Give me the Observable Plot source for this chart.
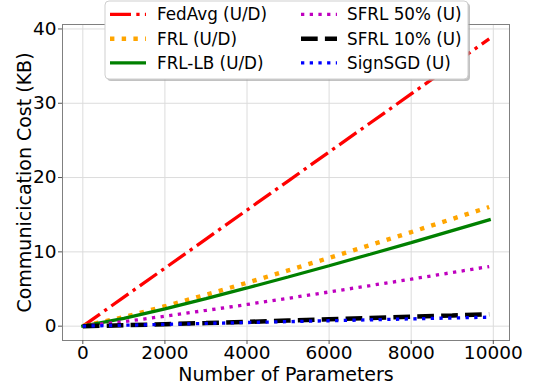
<!DOCTYPE html>
<html>
<head>
<meta charset="utf-8">
<script src="https://cdn.jsdelivr.net/npm/d3@7"></script>
<script src="https://cdn.jsdelivr.net/npm/@observablehq/plot@0.6"></script>
<style>
  html, body { margin: 0; padding: 0; background: #fff; }
  #chart { position: relative; width: 534px; height: 389px; }
  svg { font-family: "DejaVu Sans", sans-serif; }
</style>
</head>
<body>
<div id="chart"></div>
<script>
// Number of parameters (x)
const params = [0, 1000, 2000, 3000, 4000, 5000, 6000, 7000, 8000, 9000, 9900];
// Communication cost in KB per method
const fedAvg   = [0, 3.91, 7.81, 11.72, 15.63, 19.53, 23.44, 27.34, 31.25, 35.16, 38.67];
const frl      = [0, 1.22, 2.68, 4.23, 5.84, 7.50, 9.19, 10.91, 12.66, 14.43, 16.04];
const frlLB    = [0, 1.04, 2.33, 3.70, 5.14, 6.62, 8.13, 9.68, 11.25, 12.85, 14.30];
const sfrl50   = [0, 0.61, 1.34, 2.12, 2.92, 3.75, 4.60, 5.46, 6.33, 7.22, 8.02];
const sfrl10   = [0, 0.12, 0.27, 0.42, 0.58, 0.75, 0.92, 1.09, 1.27, 1.44, 1.60];
const signSGD  = [0, 0.12, 0.24, 0.37, 0.49, 0.61, 0.73, 0.85, 0.98, 1.10, 1.21];
// Series names
const names = ["FedAvg (U/D)", "FRL (U/D)", "FRL-LB (U/D)", "SFRL 50% (U)", "SFRL 10% (U)", "SignSGD (U)"];
// Tick labels
const xTicks = [0, 2000, 4000, 6000, 8000, 10000];
const yTicks = [0, 10, 20, 30, 40];

const valuesList = [fedAvg, frl, frlLB, sfrl50, sfrl10, signSGD];
const styles = [
  {stroke: "#ff0000", width: 3.3, dash: "21,5.3,3.3,5.3", cap: "butt"},
  {stroke: "#ffa500", width: 4.4, dash: "4.4,7.3", cap: "butt"},
  {stroke: "#008000", width: 3.3, dash: null, cap: "square"},
  {stroke: "#bf00bf", width: 3.3, dash: "3.3,5.4", cap: "butt"},
  {stroke: "#000000", width: 4.5, dash: "16.7,7.2", cap: "butt"},
  {stroke: "#0000ff", width: 3.3, dash: "3.3,5.4", cap: "butt"}
];

const lineMarks = names.map((name, i) => {
  const data = params.map((p, j) => ({x: p, y: valuesList[i][j], series: name}));
  const s = styles[i];
  return Plot.line(data, {
    x: "x", y: "y",
    stroke: s.stroke,
    strokeWidth: s.width,
    strokeDasharray: s.dash,
    strokeLinecap: s.cap,
    strokeLinejoin: "miter"
  });
});

const chart = Plot.plot({
  width: 534,
  height: 389,
  marginLeft: 62,
  marginRight: 25,
  marginTop: 24,
  marginBottom: 49,
  style: {fontFamily: "DejaVu Sans, sans-serif", background: "#fff", overflow: "visible"},
  x: {domain: [-495, 10395]},
  y: {domain: [-1.93, 40.6]},
  marks: [
    Plot.gridX(xTicks, {stroke: "#dcdcdc", strokeOpacity: 1, strokeWidth: 1}),
    Plot.gridY(yTicks, {stroke: "#dcdcdc", strokeOpacity: 1, strokeWidth: 1}),
    ...lineMarks,
    Plot.frame({stroke: "#808080", strokeWidth: 1}),
    Plot.axisX({ticks: xTicks, tickFormat: d => String(d), tickSize: 4, tickPadding: 1.5,
      fontSize: 18.5, stroke: "#555", fill: "#000", label: null}),
    Plot.axisX({ticks: [], tickSize: 0, fontSize: 19, fill: "#000",
      label: "Number of Parameters", labelAnchor: "center", labelArrow: "none", labelOffset: 40}),
    Plot.axisY({ticks: yTicks, tickFormat: d => String(d), tickSize: 4, tickPadding: 2,
      fontSize: 18.5, stroke: "#555", fill: "#000", label: null}),
    Plot.axisY({ticks: [], tickSize: 0, fontSize: 19, fill: "#000",
      label: "Communicication Cost (KB)", labelAnchor: "center", labelArrow: "none", labelOffset: 45})
  ]
});

document.getElementById("chart").appendChild(chart);

// Legend drawn inside the SVG, overlapping the top of the plot
const svg = d3.select(chart);
const lg = svg.append("g").attr("class", "legend").attr("text-anchor", "start");
lg.append("rect").attr("x", 107).attr("y", 3).attr("width", 363).attr("height", 78)
  .attr("rx", 4).attr("fill", "#999").attr("opacity", 0.6);
lg.append("rect").attr("x", 105).attr("y", 1).attr("width", 363).attr("height", 78)
  .attr("rx", 4).attr("fill", "#fff").attr("stroke", "#cfcfcf").attr("stroke-width", 1);
const rowsY = [14.3, 38.8, 62.9];
names.forEach((name, i) => {
  const col = i < 3 ? 0 : 1;
  const row = i % 3;
  const x0 = col === 0 ? 110 : 301;
  const tx = col === 0 ? 157 : 347;
  const y = rowsY[row];
  const s = styles[i];
  const ln = lg.append("line").attr("x1", x0).attr("x2", x0 + 36).attr("y1", y).attr("y2", y)
    .attr("stroke", s.stroke).attr("stroke-width", s.width).attr("stroke-linecap", "butt");
  if (s.dash) ln.attr("stroke-dasharray", s.dash);
  lg.append("text").attr("x", tx).attr("y", y).attr("dy", "0.35em")
    .attr("text-anchor", "start")
    .attr("font-size", 16.8).attr("fill", "#000").text(name);
});
</script>
</body>
</html>
